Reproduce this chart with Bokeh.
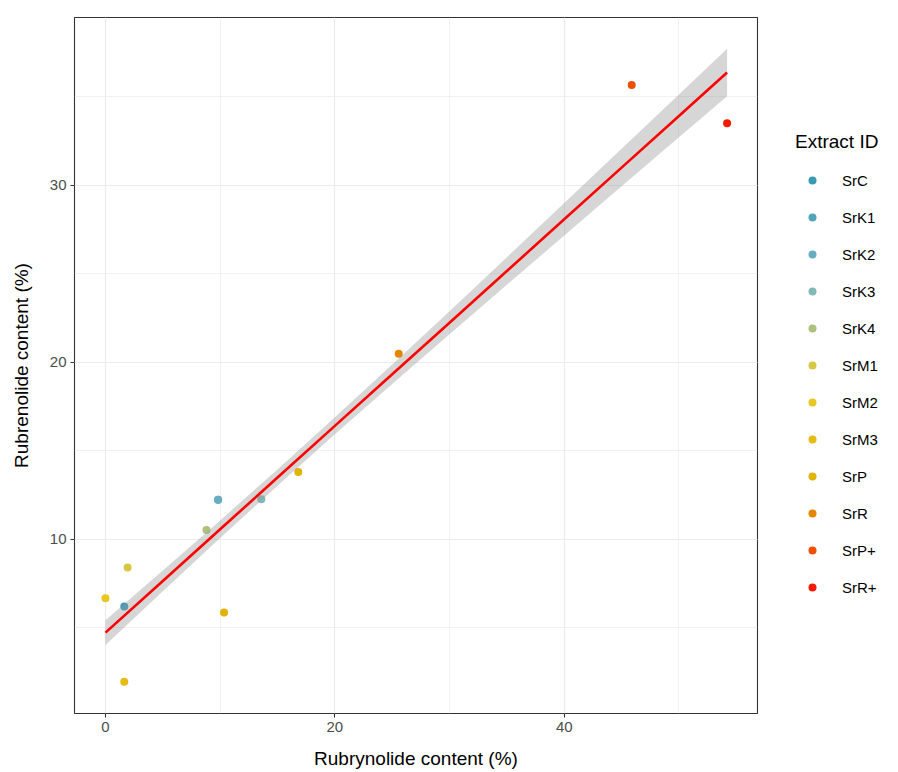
from bokeh.plotting import figure
from bokeh.layouts import row
from bokeh.models import Legend, LegendItem, SingleIntervalTicker, Range1d
from bokeh.embed import file_html
from bokeh.resources import INLINE

# Legend categories and colours
extract_ids = ["SrC", "SrK1", "SrK2", "SrK3", "SrK4", "SrM1", "SrM2", "SrM3",
               "SrP", "SrR", "SrP+", "SrR+"]
id_colors = ["#3B9AB2", "#51A5B9", "#67AFC0", "#82B9B7", "#ACC17E", "#D6C846",
             "#E9C722", "#E6BC13", "#E2B204", "#E68600", "#EC5000", "#F21A00"]

# Points (SrK1 lies under SrK2)
point_id = ["SrM2", "SrC", "SrM1", "SrM3", "SrP", "SrK4", "SrK1", "SrK2", "SrK3",
            "SrP", "SrR", "SrP+", "SrR+"]
rubrynolide = [0.0, 1.64, 1.93, 1.64, 10.34, 8.81, 9.82, 9.82, 13.59, 16.81, 25.57, 45.88, 54.2]
rubrenolide = [6.66, 6.19, 8.40, 1.94, 5.85, 10.51, 12.23, 12.23, 12.25, 13.80, 20.47, 35.65, 33.50]

# Linear smooth and its confidence half-width
fit_x = [0, 5, 10, 15, 20, 25, 30, 35, 40, 45, 50, 54.2]
fit_y = [4.72, 7.64, 10.56, 13.48, 16.40, 19.32, 22.23, 25.15, 28.07, 30.99, 33.91, 36.36]
fit_half = [0.70, 0.59, 0.50, 0.46, 0.48, 0.55, 0.65, 0.78, 0.92, 1.06, 1.21, 1.34]

FONT = "Liberation Sans"

p = figure(width=759, height=772, output_backend="svg", toolbar_location=None,
           x_range=Range1d(-2.7, 56.85), y_range=Range1d(0.15, 39.47),
           min_border_left=74, min_border_right=2, min_border_top=17, min_border_bottom=59)

p.background_fill_color = "white"
p.border_fill_color = "white"
p.outline_line_color = "#333333"
p.outline_line_width = 1.1

for ax, interval in ((p.xaxis, 20), (p.yaxis, 10)):
    ax.ticker = SingleIntervalTicker(interval=interval, num_minor_ticks=2)
    ax.axis_line_color = None
    ax.major_tick_line_color = "#333333"
    ax.major_tick_line_width = 1.1
    ax.major_tick_out = 4
    ax.major_tick_in = 0
    ax.minor_tick_out = 0
    ax.minor_tick_in = 0
    ax.major_label_text_font = FONT
    ax.major_label_text_font_size = "15px"
    ax.major_label_text_color = "#4D4D4D"
    ax.axis_label_text_font = FONT
    ax.axis_label_text_font_size = "19px"
    ax.axis_label_text_font_style = "normal"
    ax.axis_label_text_color = "#000000"
    ax.major_label_standoff = 4

p.xaxis.axis_label = "Rubrynolide content (%)"
p.yaxis.axis_label = "Rubrenolide content (%)"
p.xaxis.axis_label_standoff = 13
p.yaxis.axis_label_standoff = 15

for g in (p.xgrid, p.ygrid):
    g.grid_line_color = "#EBEBEB"
    g.grid_line_width = 1.2
    g.minor_grid_line_color = "#EBEBEB"
    g.minor_grid_line_width = 0.7

# legend panel: a separate narrow figure whose copies of the points lie outside its view
lf = figure(width=139, height=772, output_backend="svg", toolbar_location=None,
            x_range=Range1d(1000, 1001), y_range=Range1d(1000, 1001),
            x_axis_type=None, y_axis_type=None,
            min_border_left=0, min_border_right=0, min_border_top=0, min_border_bottom=0)
lf.outline_line_color = None
lf.xgrid.visible = False
lf.ygrid.visible = False
lf.background_fill_color = "white"
lf.border_fill_color = "white"

legend_items = []
for eid, col in zip(extract_ids, id_colors):
    xs = [x for x, i in zip(rubrynolide, point_id) if i == eid]
    ys = [y for y, i in zip(rubrenolide, point_id) if i == eid]
    p.scatter(xs, ys, size=8, fill_color=col, line_color=col, line_width=0)
    r2 = lf.scatter(xs, ys, size=8, fill_color=col, line_color=col, line_width=0)
    legend_items.append(LegendItem(label=eid, renderers=[r2]))

# smooth band and line
lo = [y - h for y, h in zip(fit_y, fit_half)]
hi = [y + h for y, h in zip(fit_y, fit_half)]
p.varea(x=fit_x, y1=lo, y2=hi, fill_color="#999999", fill_alpha=0.4)
p.line(fit_x, fit_y, line_color="#FF0000", line_width=2.6)

legend = Legend(items=legend_items, location=(36, 116))
legend.title = "Extract ID"
legend.title_text_font = FONT
legend.title_text_font_size = "19px"
legend.title_text_font_style = "normal"
legend.title_text_color = "#000000"
legend.title_standoff = 17
legend.label_text_font = FONT
legend.label_text_font_size = "15px"
legend.label_text_color = "#000000"
legend.glyph_width = 34
legend.glyph_height = 20
legend.label_height = 20
legend.label_standoff = 13
legend.spacing = 17
legend.padding = 0
legend.margin = 0
legend.border_line_color = None
legend.background_fill_alpha = 0
lf.add_layout(legend, "center")

layout = row(p, lf, spacing=0)
open("out.html", "w").write(file_html(layout, INLINE))
